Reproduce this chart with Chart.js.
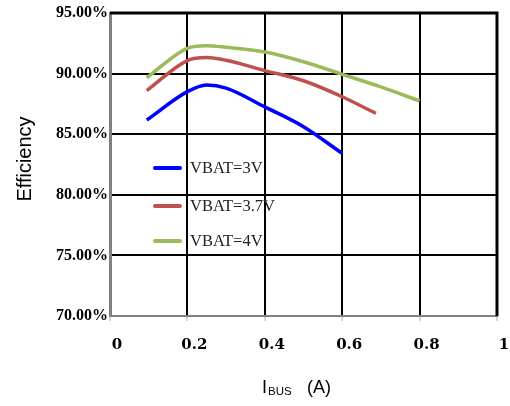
<!DOCTYPE html>
<html>
<head>
<meta charset="utf-8">
<script src="https://cdn.jsdelivr.net/npm/chart.js@4/dist/chart.umd.min.js"></script>
<style>
  html, body { margin: 0; padding: 0; background: #fff; }
  #wrap { width: 510px; height: 406px; }
</style>
</head>
<body>
<div id="wrap"><canvas id="effChart" width="510" height="406"></canvas></div>
<script>
// series data (current in A, efficiency in %)
const seriesNames = ['VBAT=3V', 'VBAT=3.7V', 'VBAT=4V'];
const seriesColors = ['#0000ff', '#c0504d', '#9bbb59'];

const ibus3V = [0.095, 0.2, 0.25, 0.3, 0.4, 0.5, 0.6];
const eff3V = [86.17, 88.51, 89.06, 88.8, 87.25, 85.62, 83.42];

const ibus37V = [0.095, 0.2, 0.25, 0.3, 0.4, 0.5, 0.6, 0.687];
const eff37V = [88.6, 91.07, 91.32, 91.1, 90.25, 89.41, 88.09, 86.72];

const ibus4V = [0.095, 0.2, 0.25, 0.3, 0.4, 0.5, 0.6, 0.7, 0.8];
const eff4V = [89.66, 92.09, 92.3, 92.17, 91.78, 90.98, 89.94, 88.9, 87.74];

// axis ticks
const xTicks = [0, 0.2, 0.4, 0.6, 0.8, 1];
const yTicks = [70, 75, 80, 85, 90, 95];

function toPoints(xs, ys) {
    return xs.map((x, i) => ({ x: x, y: ys[i] }));
}

const allX = [ibus3V, ibus37V, ibus4V];
const allY = [eff3V, eff37V, eff4V];

const datasets = seriesNames.map((name, i) => ({
    label: name,
    data: toPoints(allX[i], allY[i]),
    borderColor: seriesColors[i],
    backgroundColor: seriesColors[i],
    borderWidth: 3.5,
    pointRadius: 0,
    cubicInterpolationMode: 'monotone',
    fill: false
}));

// frame (top/right), legend inside plot, axis titles
const decorPlugin = {
    id: 'decor',
    beforeDatasetsDraw(chart) {
        const ctx = chart.ctx;
        const a = chart.chartArea;
        ctx.save();
        ctx.strokeStyle = '#000';
        ctx.lineWidth = 3;
        ctx.beginPath();
        ctx.moveTo(a.left, a.top);
        ctx.lineTo(a.right, a.top);
        ctx.lineTo(a.right, a.bottom);
        ctx.stroke();
        ctx.restore();
    },
    afterDraw(chart) {
        const ctx = chart.ctx;
        ctx.save();
        // legend
        const rows = [168, 206, 241];
        chart.data.datasets.forEach((ds, i) => {
            ctx.strokeStyle = ds.borderColor;
            ctx.lineWidth = 4;
            ctx.lineCap = 'round';
            ctx.beginPath();
            ctx.moveTo(155, rows[i]);
            ctx.lineTo(180, rows[i]);
            ctx.stroke();
            ctx.fillStyle = '#222';
            ctx.font = '16.5px "Liberation Serif", serif';
            ctx.textBaseline = 'middle';
            ctx.textAlign = 'left';
            ctx.fillText(ds.label, 190, rows[i] + 1);
        });

        // y title
        ctx.fillStyle = '#000';
        ctx.font = '20px "Liberation Sans", Arial, sans-serif';
        ctx.translate(25, 159);
        ctx.rotate(-Math.PI / 2);
        ctx.textAlign = 'center';
        ctx.textBaseline = 'middle';
        ctx.fillText('Efficiency', 0, 0);
        ctx.setTransform(1, 0, 0, 1, 0, 0);

        // x title: I_BUS (A)
        ctx.textAlign = 'left';
        ctx.textBaseline = 'alphabetic';
        ctx.font = '18px "Liberation Sans", Arial, sans-serif';
        ctx.fillText('I', 262, 393);
        ctx.font = '11.5px "Liberation Sans", Arial, sans-serif';
        ctx.fillText('BUS', 268, 395);
        ctx.font = '18px "Liberation Sans", Arial, sans-serif';
        ctx.fillText('(A)', 307, 393);
        ctx.restore();
    }
};

new Chart(document.getElementById('effChart').getContext('2d'), {
    type: 'line',
    data: { datasets: datasets },
    options: {
        responsive: false,
        animation: false,
        layout: { padding: { top: 13, right: 13, left: 0, bottom: 0 } },
        plugins: { legend: { display: false }, tooltip: { enabled: false } },
        scales: {
            x: {
                type: 'linear',
                min: 0,
                max: 1,
                afterFit: s => { s.height = 90; s.paddingLeft = 0; s.paddingRight = 0; },
                afterBuildTicks: s => { s.ticks = xTicks.map(v => ({ value: v })); },
                grid: { color: '#000', lineWidth: 2, tickLength: 5, tickColor: '#aaa', tickWidth: 1 },
                border: { color: '#808080', width: 2 },
                ticks: {
                    padding: 15,
                    labelOffset: 7,
                    color: '#000',
                    maxRotation: 0,
                    font: { family: '"DejaVu Serif", serif', size: 15, weight: 'bold' },
                    callback: v => String(v)
                }
            },
            y: {
                min: 70,
                max: 95,
                afterFit: s => { s.width = 110; s.paddingTop = 0; s.paddingBottom = 0; },
                afterBuildTicks: s => { s.ticks = yTicks.map(v => ({ value: v })); },
                grid: { color: '#000', lineWidth: 2, drawTicks: false },
                border: { color: '#808080', width: 3 },
                ticks: {
                    padding: 2,
                    color: '#000',
                    font: { family: '"Liberation Serif", serif', size: 16, weight: 'bold' },
                    callback: v => v.toFixed(2) + '%'
                }
            }
        }
    },
    plugins: [decorPlugin]
});
</script>
</body>
</html>
